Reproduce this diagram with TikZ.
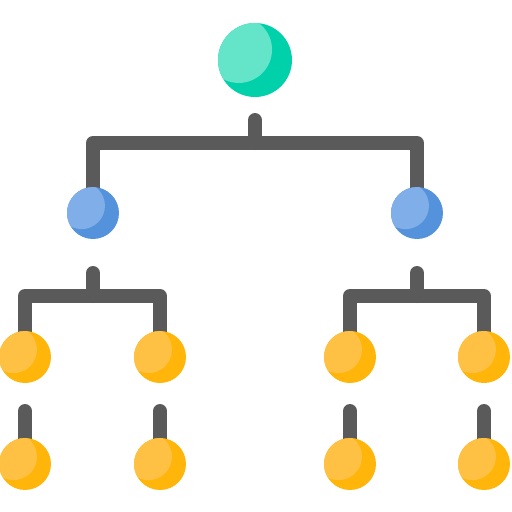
\documentclass[tikz,border=0pt]{standalone}
\usetikzlibrary{backgrounds}
\definecolor{tealdark}{HTML}{00D1AA}
\definecolor{teallight}{HTML}{64E4C8}
\definecolor{bluedark}{HTML}{5492DC}
\definecolor{bluelight}{HTML}{80AEE8}
\definecolor{ambdark}{HTML}{FFB509}
\definecolor{amblight}{HTML}{FFC144}
\definecolor{wire}{HTML}{5A5A5A}
\tikzset{
    ball/.style n args={3}{circle, inner sep=0pt, minimum size=#1, fill=#2,
        path picture={\fill[#3] ([shift={(-0.22*#1,0.14*#1)}]path picture bounding box.center) circle (0.45*#1);}},
    root node/.style={ball={1.48cm}{tealdark}{teallight}},
    mid node/.style={ball={1.04cm}{bluedark}{bluelight}},
    leaf node/.style={ball={1.04cm}{ambdark}{amblight}},
    link/.style={draw=wire, line width=0.28cm, line join=round},
    stub/.style={link, line cap=round},
}

\begin{document}
\begin{tikzpicture}[x=0.02cm, y=-0.02cm]
    \useasboundingbox (0,0) rectangle (512,512);
    % nodes
    \node[root node] (root) at (255,60) {};
    \node[mid node] (b1) at (93,213) {};
    \node[mid node] (b2) at (417,213) {};
    \foreach \i/\x in {1/25, 2/160, 3/350, 4/484} {
        \node[leaf node] (o\i) at (\x,357) {};
        \node[leaf node] (p\i) at (\x,464) {};
        \coordinate (q\i) at (\x,411);
    }
    \coordinate (rootstub) at (255,120);
    \coordinate (rootbar) at (255,143);
    \coordinate (lstub) at (93,273);
    \coordinate (lbar) at (93,296);
    \coordinate (rstub) at (417,273);
    \coordinate (rbar) at (417,296);
    % connectors
    \begin{pgfonlayer}{background}
        \draw[stub] (rootstub) -- (rootbar);
        \draw[link] (b1.center) |- (rootbar) -| (b2.center);
        \draw[stub] (lstub) -- (lbar);
        \draw[link] (o1.center) |- (lbar) -| (o2.center);
        \draw[stub] (rstub) -- (rbar);
        \draw[link] (o3.center) |- (rbar) -| (o4.center);
        \foreach \i in {1,...,4}
            \draw[stub] (q\i) -- (p\i.center);
    \end{pgfonlayer}
\end{tikzpicture}
\end{document}
